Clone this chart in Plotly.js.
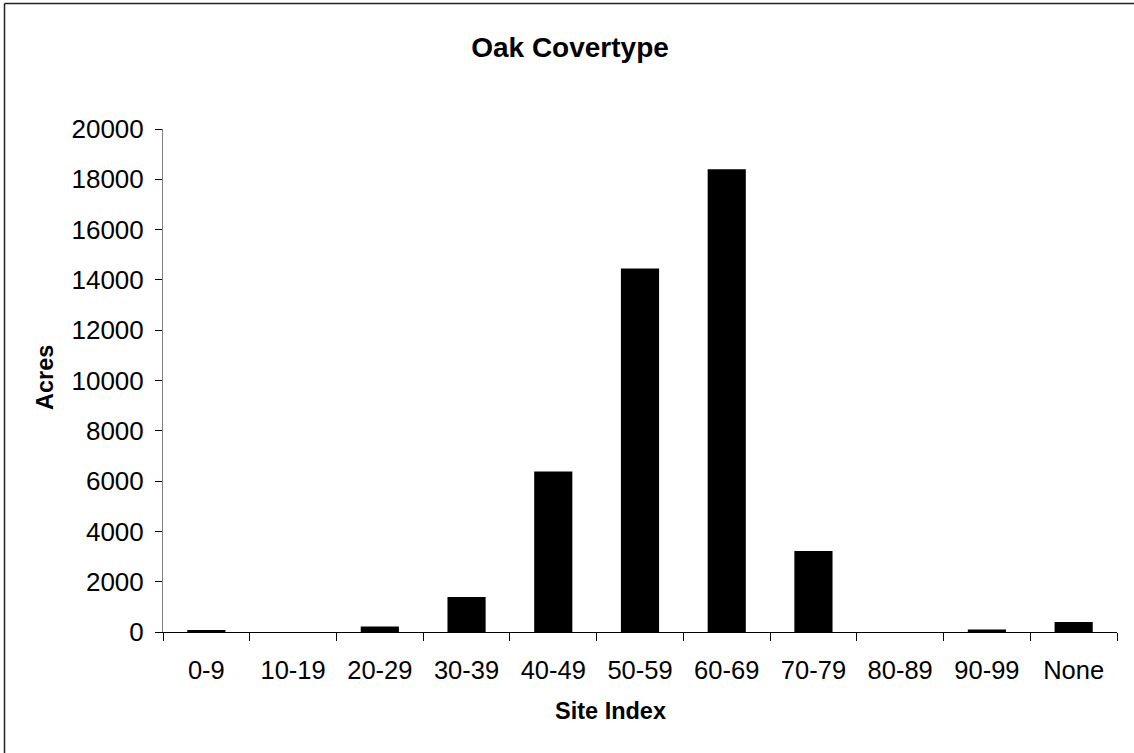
<!DOCTYPE html>
<html>
<head>
<meta charset="utf-8">
<script src="https://cdn.plot.ly/plotly-3.0.1.min.js"></script>
<style>html,body{margin:0;padding:0;background:#fff;}#chart{width:1134px;height:753px;}</style>
</head>
<body>
<div id="chart"></div>
<script>
const categories = ['0-9','10-19','20-29','30-39','40-49','50-59','60-69','70-79','80-89','90-99','None'];
const acres = [80, 0, 220, 1390, 6380, 14450, 18400, 3220, 0, 100, 400];
const yTickValues = [0,2000,4000,6000,8000,10000,12000,14000,16000,18000,20000];
const chartTitle = 'Oak Covertype';
const xTitle = 'Site Index';
const yTitle = 'Acres';

const FONT = 'Liberation Sans, Arial, sans-serif';
const L = 163, R = 1117, T = 129, B = 632, W = 1134, H = 753;
const px2x = p => (p - L) / (R - L);
const py2y = p => (B - p) / (B - T);

const trace = {
  type: 'bar',
  x: categories,
  y: acres,
  marker: {color: '#000000', line: {width: 0}},
  hoverinfo: 'x+y'
};

const layout = {
  width: W, height: H,
  margin: {l: L, r: W - R, t: T, b: H - B, pad: 0},
  paper_bgcolor: '#ffffff',
  plot_bgcolor: '#ffffff',
  showlegend: false,
  bargap: 0.56,
  font: {family: FONT, color: '#000000'},
  title: {
    text: chartTitle,
    font: {family: FONT, size: 28, color: '#000000', weight: 'bold'},
    xref: 'container', yref: 'container',
    x: 570 / W, y: 1 - 47 / H, xanchor: 'center', yanchor: 'middle'
  },
  xaxis: {
    type: 'category',
    range: [-0.5, 10.5],
    showline: true, linecolor: '#000000', linewidth: 1,
    ticks: 'outside', tickson: 'boundaries', ticklen: 8, tickcolor: '#000000', tickwidth: 1,
    tickfont: {family: FONT, size: 25.5, color: '#000000'},
    ticklabelstandoff: 15,
    showgrid: false, zeroline: false,
    fixedrange: true
  },
  yaxis: {
    range: [0, 20000],
    tickvals: yTickValues,
    ticktext: yTickValues.map(String),
    showline: true, linecolor: '#808080', linewidth: 1,
    ticks: 'outside', ticklen: 7, tickcolor: '#000000', tickwidth: 1,
    tickfont: {family: FONT, size: 26, color: '#000000'},
    ticklabelstandoff: 6,
    showgrid: false, zeroline: false,
    fixedrange: true
  },
  annotations: [
    {
      text: xTitle, xref: 'paper', yref: 'paper',
      x: px2x(610), y: py2y(711), xanchor: 'center', yanchor: 'middle',
      showarrow: false,
      font: {family: FONT, size: 23.5, color: '#000000', weight: 'bold'}
    },
    {
      text: yTitle, xref: 'paper', yref: 'paper',
      x: px2x(45), y: py2y(378), xanchor: 'center', yanchor: 'middle',
      textangle: -90, showarrow: false,
      font: {family: FONT, size: 23.5, color: '#000000', weight: 'bold'}
    }
  ],
  shapes: [
    {type: 'line', xref: 'paper', yref: 'paper', x0: px2x(4.5), x1: px2x(1140), y0: py2y(3.5), y1: py2y(3.5), line: {color: '#222222', width: 1.5}},
    {type: 'line', xref: 'paper', yref: 'paper', x0: px2x(4.5), x1: px2x(4.5), y0: py2y(3.5), y1: py2y(760), line: {color: '#222222', width: 1.5}}
  ]
};

Plotly.newPlot('chart', [trace], layout, {displayModeBar: false, staticPlot: true});
</script>
</body>
</html>
